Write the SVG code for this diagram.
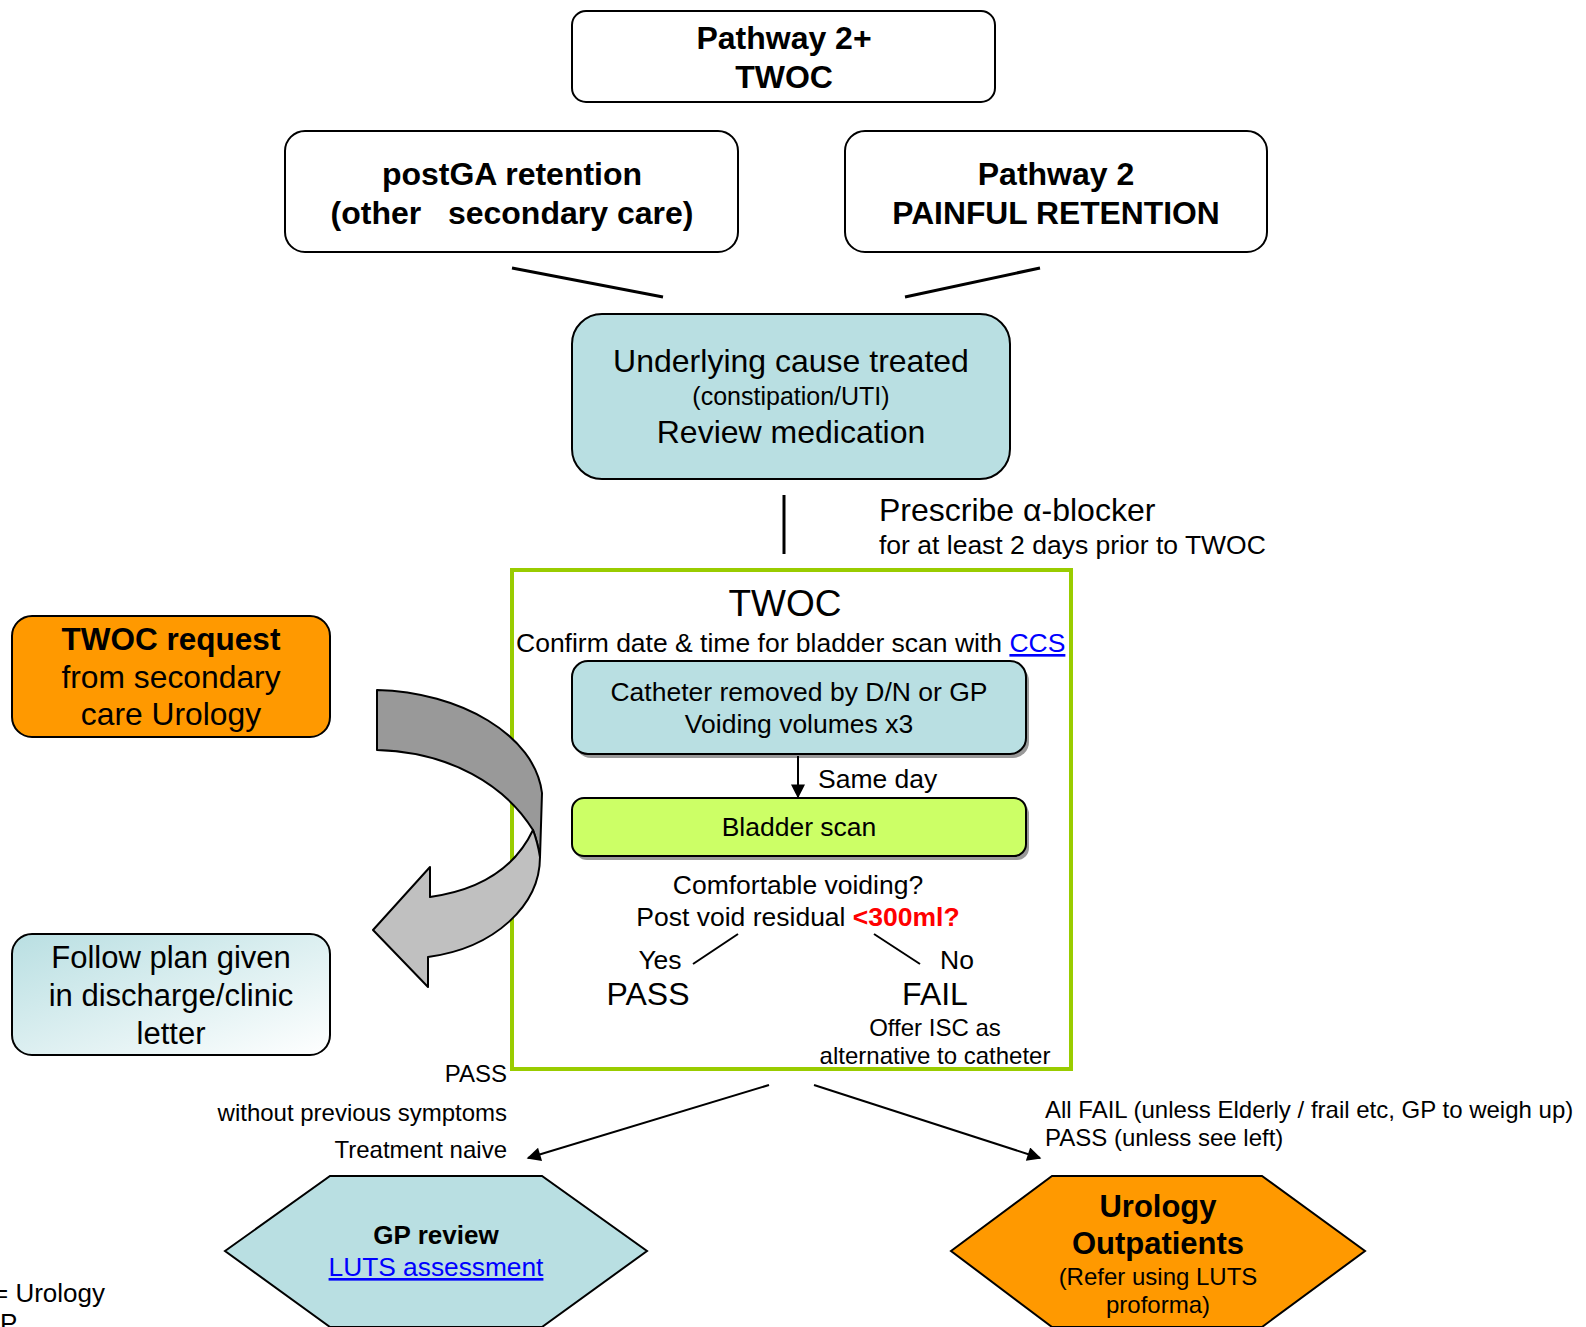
<svg xmlns="http://www.w3.org/2000/svg" width="1586" height="1327" viewBox="0 0 1586 1327">
<style>
text{font-family:"Liberation Sans",Arial,sans-serif;fill:#000}
.box{stroke:#000;stroke-width:2}
.w{fill:#fff}
.blue{fill:#B9DFE2}
.org{fill:#FF9900}
.c{text-anchor:middle}
.b{font-weight:bold}
.link{fill:#0000FF;text-decoration:underline}
.ln{stroke:#000;stroke-width:3;fill:none}
.thin{stroke:#000;stroke-width:2;fill:none}
</style>
<defs>
<marker id="ah" viewBox="0 0 10 10" refX="9" refY="5" markerWidth="14" markerHeight="14" markerUnits="userSpaceOnUse" orient="auto">
<path d="M0,0 L10,5 L0,10 Z" fill="#000"/>
</marker>
<marker id="ah2" viewBox="0 0 10 10" refX="9" refY="5" markerWidth="16" markerHeight="14" markerUnits="userSpaceOnUse" orient="auto">
<path d="M0,0 L10,5 L0,10 Z" fill="#000"/>
</marker>
<linearGradient id="fg" x1="0" y1="0" x2="1" y2="1">
<stop offset="0" stop-color="#B9DFE2"/>
<stop offset="1" stop-color="#FFFFFF"/>
</linearGradient>
</defs>

<g id="pathway2plus">
<rect class="box w" x="572" y="11" width="423" height="91" rx="14"/>
<text class="c b" x="784" y="49" font-size="32">Pathway 2+</text>
<text class="c b" x="784" y="88" font-size="32">TWOC</text>
</g>

<g id="postga">
<rect class="box w" x="285" y="131" width="453" height="121" rx="20"/>
<text class="c b" x="512" y="185" font-size="32">postGA retention</text>
<text class="c b" x="512" y="224" font-size="32" xml:space="preserve">(other   secondary care)</text>
</g>

<g id="pathway2">
<rect class="box w" x="845" y="131" width="422" height="121" rx="20"/>
<text class="c b" x="1056" y="185" font-size="32">Pathway 2</text>
<text class="c b" x="1056" y="224" font-size="31.8">PAINFUL RETENTION</text>
</g>

<g id="underlying">
<rect class="box blue" x="572" y="314" width="438" height="165" rx="30"/>
<text class="c" x="791" y="372" font-size="32">Underlying cause treated</text>
<text class="c" x="791" y="405" font-size="25">(constipation/UTI)</text>
<text class="c" x="791" y="443" font-size="32">Review medication</text>
</g>

<g id="prescribe">
<text x="879" y="521" font-size="32">Prescribe α-blocker</text>
<text x="879" y="554" font-size="26.5">for at least 2 days prior to TWOC</text>
</g>

<g id="twoc">
<rect x="512" y="570" width="559" height="499" fill="#fff" stroke="#99CC00" stroke-width="4"/>
<text class="c" x="785" y="616" font-size="37">TWOC</text>
<text x="516" y="652" font-size="26.5">Confirm date &amp; time for bladder scan with <tspan class="link">CCS</tspan></text>
</g>

<g id="catheter">
<rect x="575" y="665" width="454" height="93" rx="16" fill="#999"/>
<rect class="box blue" x="572" y="661" width="454" height="93" rx="16"/>
<text class="c" x="799" y="701" font-size="26.5">Catheter removed by D/N or GP</text>
<text class="c" x="799" y="733" font-size="26.5">Voiding volumes x3</text>
</g>

<text x="818" y="788" font-size="26.5">Same day</text>

<g id="bladder">
<rect x="575" y="802" width="454" height="58" rx="12" fill="#999"/>
<rect class="box" x="572" y="798" width="454" height="58" rx="12" fill="#CCFF66"/>
<text class="c" x="799" y="836" font-size="26.5">Bladder scan</text>
</g>

<g id="decision">
<text class="c" x="798" y="894" font-size="26.5">Comfortable voiding?</text>
<text class="c" x="798" y="926" font-size="26.5">Post void residual <tspan class="b" fill="#FF0000" style="fill:#FF0000">&lt;300ml?</tspan></text>
<text class="c" x="660" y="969" font-size="26.5">Yes</text>
<text class="c" x="957" y="969" font-size="26.5">No</text>
<text class="c" x="648" y="1005" font-size="32">PASS</text>
<text class="c" x="935" y="1005" font-size="32">FAIL</text>
<text class="c" x="935" y="1036" font-size="24">Offer ISC as</text>
<text class="c" x="935" y="1064" font-size="24">alternative to catheter</text>
</g>

<g id="twocrequest">
<rect class="box org" x="12" y="616" width="318" height="121" rx="20"/>
<text class="c b" x="171" y="650" font-size="31.5">TWOC request</text>
<text class="c" x="171" y="688" font-size="31.8">from secondary</text>
<text class="c" x="171" y="725" font-size="31.8">care Urology</text>
</g>

<g id="followplan">
<rect class="box" x="12" y="934" width="318" height="121" rx="20" fill="url(#fg)"/>
<text class="c" x="171" y="968" font-size="31">Follow plan given</text>
<text class="c" x="171" y="1006" font-size="31">in discharge/clinic</text>
<text class="c" x="171" y="1044" font-size="31">letter</text>
</g>

<g id="curvedarrow" stroke="#000" stroke-width="2" stroke-linejoin="round">
<path d="M377,690 C460,692 535,735 542,793 L540,857 C538,845 536,838 533,830 C505,785 450,752 377,750 Z" fill="#999999"/>
<path d="M533,830 C515,868 480,890 430,897 L430,867 L373,930 L428,987 L428,957 C495,948 540,905 540,857 C538,845 536,838 533,830 Z" fill="#C0C0C0"/>
</g>

<g id="passlabels">
<text x="507" y="1082" font-size="24" text-anchor="end">PASS</text>
<text x="507" y="1121" font-size="24" text-anchor="end">without previous symptoms</text>
<text x="507" y="1158" font-size="24" text-anchor="end">Treatment naive</text>
</g>

<g id="faillabels">
<text x="1045" y="1118" font-size="24">All FAIL (unless Elderly / frail etc, GP to weigh up)</text>
<text x="1045" y="1146" font-size="24">PASS (unless see left)</text>
</g>

<g id="gpreview">
<polygon class="box blue" points="225,1251 330,1176 542,1176 647,1251 542,1327 330,1327"/>
<text class="c b" x="436" y="1244" font-size="26">GP review</text>
<text class="c link" x="436" y="1276" font-size="26.3">LUTS assessment</text>
</g>

<g id="urology">
<polygon class="box org" points="951,1251 1052,1176 1262,1176 1365,1251 1262,1327 1052,1327"/>
<text class="c b" x="1158" y="1217" font-size="31">Urology</text>
<text class="c b" x="1158" y="1254" font-size="31">Outpatients</text>
<text class="c" x="1158" y="1285" font-size="24">(Refer using LUTS</text>
<text class="c" x="1158" y="1313" font-size="24">proforma)</text>
</g>

<g id="legend">
<text x="-7" y="1302" font-size="26">= Urology</text>
<text x="0" y="1332" font-size="26">P</text>
</g>

<g id="connectors">
<line class="ln" x1="512" y1="268" x2="663" y2="297"/>
<line class="ln" x1="1040" y1="268" x2="905" y2="297"/>
<line class="ln" x1="784" y1="495" x2="784" y2="554"/>
<line class="thin" x1="798" y1="756" x2="798" y2="797" marker-end="url(#ah)"/>
<line class="thin" x1="738" y1="934" x2="693" y2="964"/>
<line class="thin" x1="874" y1="934" x2="920" y2="964"/>
<line class="thin" x1="769" y1="1085" x2="528" y2="1158" marker-end="url(#ah2)"/>
<line class="thin" x1="814" y1="1085" x2="1040" y2="1158" marker-end="url(#ah2)"/>
</g>
</svg>
